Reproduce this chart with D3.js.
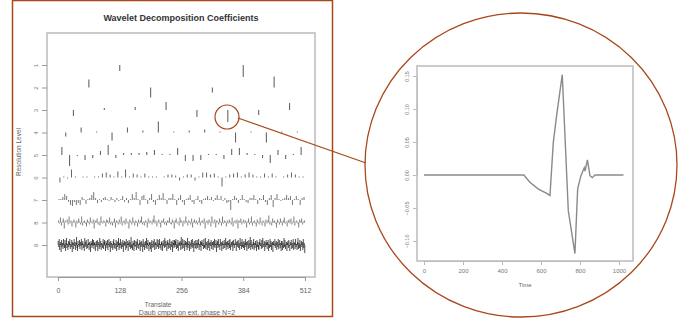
<!DOCTYPE html>
<html>
<head>
<meta charset="utf-8">
<script src="https://cdn.jsdelivr.net/npm/d3@7"></script>
<style>
  body { margin: 0; background: #fff; }
  svg { display: block; font-family: "Liberation Sans", Arial, sans-serif; }
</style>
</head>
<body>
<div id="chart"></div>
<script>
// wavelet coefficients per resolution level (px-ish units, + is up)
const level1 = [-6, -12];
const level2 = [8, -10, -5, 11];
const level3 = [-6, 2, 3, 8, -7, -12, -5, 7];
const level4 = [-4, 5, 1, -8, 5, 2, 11, 1, 2, 3, 1, -10, 1, -10, 1, 1];
const level5 = [8, -11, -1, -5, -3, 4, 10, -3, 2, 2, 2, 3, 5, 1, 1, 7,
  -6, -6, -5, 1, 1, -4, 6, 7, 2, 1, -3, -8, 5, -4, 1, 8];
const level6 = [-5, 1, -1, 8, 1, 0, 1, 1, 0, 1, 1, 4, 5, 3, 1, 6,
  1, 8, 1, 4, 3, 1, 4, 1, 1, 1, 0, 1, 3, 3, 2, -3,
  1, 3, 3, -3, 1, 5, 5, 3, 4, 1, -9, 1, 3, 4, 5, 1,
  3, 5, 3, 1, 1, 4, 1, 4, 1, 0, 1, 3, 5, 3, 1, 1];
const level7 = [1, 1, 3, 6, 4, -2, -5, -6, -2, -5, -3, -5, 3, 1, -4, 1,
  2, 5, 8, 2, -3, 1, -2, 2, 3, 1, -1, 3, 1, -2, 2, -1,
  1, 4, -2, 2, -3, 1, 6, 2, 8, 1, -5, 4, 5, 1, -4, 2,
  6, -2, -5, 1, 5, 2, 7, 1, -4, 2, 2, 6, 1, -5, 2, 5,
  -2, -5, 1, 2, 5, -2, -4, 1, 4, -2, -4, 1, 2, 4, 1, 3,
  -1, 2, 5, 1, 4, -1, 2, -3, -2, -10, 1, 4, 2, -3, 1, 5,
  1, -2, -3, 2, 2, 5, 1, -4, 2, 1, 5, -2, -5, 2, 5, -7,
  2, 6, 1, -1, 1, 2, 5, 2, 4, -5, 1, 4, 1, -5, 2, 3];
const level8 = [2, -1, 5, -3, 1, 4, -6, 2, 0, 3, -2, 6, -1, 2, -4, 1,
  3, 1, -5, 2, -1, 4, 1, -2, 6, -3, 1, 2, -1, -4, 3, 1,
  -2, 5, 1, -1, 3, -6, 2, 1, 4, -2, 1, -3, 6, 1, -1, 2,
  1, -4, 3, 2, -1, 5, -2, 1, -3, 1, 4, -5, 2, 1, -2, 3,
  -1, 6, -3, 1, 2, -2, 4, -1, 1, -6, 3, 1, -2, 5, 1, -3,
  2, 1, -4, 3, -1, 2, 6, -2, 1, -3, 2, 1, -5, 4, -1, 2,
  1, -2, 3, 7, -1, 2, -4, 1, 3, -1, -5, 2, 1, 4, -2, 1,
  -3, 2, 1, 5, -1, -2, 3, 1, -6, 2, 4, -1, 1, -3, 5, 2,
  1, -4, 2, -1, 6, 1, -3, 2, 1, -2, 4, -5, 1, 3, -1, 2,
  -2, 1, 5, -3, 1, 2, -1, 4, -6, 1, 2, -2, 3, 1, -4, 6,
  1, -1, 3, -5, 2, 1, -2, 4, 1, -3, 6, -1, 2, 1, -4, 2,
  -1, 3, 1, -2, 5, -4, 1, 2, -1, 3, -6, 2, 1, 4, -2, 1,
  3, -1, 2, -5, 1, 4, -2, 1, 6, -3, 1, 2, -1, -4, 3, 1,
  -2, 5, 1, -3, 2, 1, -4, 3, -1, 2, 7, -2, 1, -3, 4, 1,
  2, -1, -5, 3, 1, -2, 4, 1, -3, 2, 5, -1, 1, -4, 2, 3,
  -1, 4, -2, 1, 6, -3, 1, 2, -1, -5, 3, 1, 4, -2, 1, 2];
const level9 = [4, -2, 6, -5, 1, 3, -7, 5, -2, 2, -4, 6, 1, -3, 5, -6,
  2, 7, -3, 1, -5, 4, -2, 3, 6, -4, 1, -2, 5, -7, 3, 2,
  -4, 6, -1, 3, -5, 2, 8, -3, -6, 4, 1, -2, 5, -4, 3, -1,
  6, -5, 2, 4, -3, 1, -6, 7, -2, 3, 5, -4, 1, -3, 6, 2,
  -5, 3, 1, -7, 4, 2, -3, 6, -1, 5, -4, 2, 3, -6, 1, 4,
  -2, 5, -6, 3, 1, -4, 7, -2, 4, -5, 2, 1, -3, 6, -4, 3,
  5, -1, -6, 4, 2, -3, 5, -5, 1, 6, -2, 3, -7, 4, 2, -3,
  1, -5, 4, 6, -3, 2, -4, 1, 5, -6, 3, -2, 4, 7, -5, 2,
  -3, 6, 1, -4, 3, -2, 5, -7, 2, 4, -1, 3, -5, 6, -3, 1,
  4, -6, 2, 5, -2, 3, -4, 8, -3, 1, -5, 4, 2, -6, 5, -2,
  -1, 4, -5, 3, 6, -3, 1, -4, 2, 5, -6, 3, -2, 4, 1, -7,
  6, -2, 3, -5, 1, 4, -3, 7, -4, 2, 5, -1, -6, 3, 2, -4,
  3, -7, 5, 1, -3, 4, -2, 6, -5, 2, 3, -4, 1, 6, -2, 5,
  -4, 2, 6, -3, 1, -5, 3, 4, -6, 2, -1, 5, -3, 7, -2, 4,
  1, -6, 3, 5, -4, 2, -3, 6, 1, -5, 4, -2, 3, -7, 5, 2,
  -3, 5, -2, 4, 6, -4, 1, -3, 5, -6, 2, 3, -1, 4, -5, 8,
  2, -4, 6, -3, 1, 5, -6, 2, 4, -2, 3, -5, 7, -3, 1, 4,
  -6, 3, 1, -4, 5, -2, 6, -3, 2, -7, 4, 1, -3, 5, -4, 2,
  5, -3, 2, 6, -5, 1, -2, 4, -6, 3, 5, -1, 2, -4, 6, -3,
  -2, 7, -4, 3, 1, -5, 4, -3, 6, 2, -6, 3, -1, 5, -4, 2,
  3, -5, 4, -2, 6, -3, 1, 5, -7, 2, 4, -3, 6, -2, 1, -5,
  6, -1, 3, -6, 2, 4, -4, 1, 5, -3, 2, 7, -5, 3, -2, 4,
  -4, 2, 5, -3, 6, -5, 1, 3, -2, 4, -6, 5, 2, -3, 1, 6,
  1, -6, 3, 4, -2, 5, -3, 2, -5, 7, -1, 3, -4, 6, -2, 3,
  -3, 4, -5, 2, 6, -2, 3, -6, 4, 1, -4, 5, -3, 2, 8, -5,
  5, -2, 1, -4, 3, 6, -5, 2, -3, 4, 1, -6, 5, -2, 3, -4,
  -5, 3, 6, -1, 2, -4, 5, -3, 7, -2, 1, 4, -6, 3, -2, 5,
  2, -4, 3, 5, -6, 1, -3, 6, -2, 4, -5, 2, 3, -7, 4, 1,
  -1, 6, -3, 2, 4, -5, 3, -2, 6, -4, 1, 5, -3, 2, -6, 4,
  4, -5, 2, -3, 7, -2, 5, -4, 1, 3, -6, 2, 4, -3, 5, -1,
  -6, 3, 1, 5, -4, 2, -3, 6, -5, 3, 2, -4, 6, -2, 1, -5,
  3, 7, -4, 2, -3, 5, -6, 1, 4, -2, 3, -5, 6, -3, 2, -8];
const levels = [level1, level2, level3, level4, level5, level6, level7, level8, level9];
const levelTicks = [1, 2, 3, 4, 5, 6, 7, 8, 9];
const translateTicks = [0, 128, 256, 384, 512];

// the zoomed-in wavelet (time, value)
const waveTime = [0, 512, 543, 585, 629, 646, 663, 680, 709, 740, 774, 788, 805, 822, 826, 838, 851, 863, 877, 1023];
const waveValue = [0, 0, -0.011, -0.021, -0.028, -0.031, 0.049, 0.09, 0.152, -0.054, -0.119, -0.021, -0.001, 0.011, 0.006, 0.023, -0.001, -0.004, 0, 0];
const timeTicks = [0, 200, 400, 600, 800, 1000];
const waveTicks = [-0.10, -0.05, 0.00, 0.05, 0.10, 0.15];

const W = 682, H = 321;
const brown = "#a8481a";
const svg = d3.select("#chart").append("svg").attr("width", W).attr("height", H);

// ---------- left panel ----------
svg.append("rect").attr("x", 12.5).attr("y", 0.5).attr("width", 320).attr("height", 316)
  .attr("fill", "none").attr("stroke", brown).attr("stroke-width", 1.5);

const box = {left: 47, top: 33, right: 315, bottom: 277};
const x = d3.scaleLinear().domain([0, 512]).range([58, 305]);
const y = d3.scaleLinear().domain([1, 9]).range([65, 245]);
const coef = d3.scaleLinear().domain([0, 10]).range([0, 10]);

svg.append("rect").attr("x", box.left).attr("y", box.top)
  .attr("width", box.right - box.left).attr("height", box.bottom - box.top)
  .attr("fill", "none").attr("stroke", "#bbb").attr("stroke-width", 1.5);

// stroke per level: sparse top levels look grey, finest level is a dark band
const levelColor = ["#666", "#666", "#666", "#666", "#666", "#666", "#555", "#444", "#111"];
const levelWidth = [1.1, 1.1, 1.1, 1.1, 1.1, 1.0, 0.8, 0.7, 0.75];

levels.forEach((vals, i) => {
  const lev = i + 1, n = vals.length;
  svg.append("g").selectAll("line").data(vals).enter().append("line")
    .attr("x1", (d, k) => x((k + 0.5) * 512 / n))
    .attr("x2", (d, k) => x((k + 0.5) * 512 / n))
    .attr("y1", y(lev))
    .attr("y2", d => y(lev) - coef(d))
    .attr("stroke", levelColor[i])
    .attr("stroke-width", levelWidth[i]);
});

const xAxis = svg.append("g").attr("transform", "translate(0," + box.bottom + ")")
  .call(d3.axisBottom(x).tickValues(translateTicks).tickSize(4).tickSizeOuter(0));
xAxis.select(".domain").attr("stroke", "#999");
xAxis.selectAll(".tick line").attr("stroke", "#999");
xAxis.selectAll("text").attr("fill", "#666").style("font-size", "7px").attr("y", 11);

const yAxis = svg.append("g").attr("transform", "translate(" + box.left + ",0)")
  .call(d3.axisLeft(y).tickValues(levelTicks).tickSize(5).tickSizeOuter(0));
yAxis.select(".domain").attr("stroke", "none");
yAxis.selectAll(".tick line").attr("stroke", "#999");
yAxis.selectAll("text").attr("fill", "#777").style("font-size", "6px")
  .attr("transform", "rotate(-90)").attr("x", 0).attr("y", -9).attr("dy", 0)
  .attr("text-anchor", "middle");

svg.append("text").attr("x", 181).attr("y", 21).attr("text-anchor", "middle")
  .style("font-size", "9px").style("font-weight", "bold").attr("fill", "#333")
  .text("Wavelet Decomposition Coefficients");
svg.append("text").attr("transform", "translate(21,152)rotate(-90)").attr("text-anchor", "middle")
  .style("font-size", "6.5px").attr("fill", "#666").text("Resolution Level");
svg.append("text").attr("x", 158).attr("y", 307).attr("text-anchor", "middle")
  .style("font-size", "6.5px").attr("fill", "#666").text("Translate");
svg.append("text").attr("x", 187).attr("y", 315).attr("text-anchor", "middle")
  .style("font-size", "7px").attr("fill", "#666").text("Daub cmpct on ext. phase N=2");

// ---------- callout ----------
svg.append("circle").attr("cx", 227).attr("cy", 117).attr("r", 12)
  .attr("fill", "none").attr("stroke", brown).attr("stroke-width", 1.2);
svg.append("line").attr("x1", 238).attr("y1", 118).attr("x2", 366).attr("y2", 163)
  .attr("stroke", brown).attr("stroke-width", 1.2);
svg.append("ellipse").attr("cx", 521).attr("cy", 165).attr("rx", 156).attr("ry", 152)
  .attr("fill", "none").attr("stroke", brown).attr("stroke-width", 1.3);

// ---------- right panel ----------
const rbox = {left: 417, top: 66, right: 633, bottom: 261};
const tx = d3.scaleLinear().domain([0, 1000]).range([424, 619]);
const ty = d3.scaleLinear().domain([0, 0.15]).range([175, 76]);

svg.append("rect").attr("x", rbox.left).attr("y", rbox.top)
  .attr("width", rbox.right - rbox.left).attr("height", rbox.bottom - rbox.top)
  .attr("fill", "none").attr("stroke", "#bbb").attr("stroke-width", 1.5);

svg.append("path").datum(d3.zip(waveTime, waveValue))
  .attr("d", d3.line().x(d => tx(d[0])).y(d => ty(d[1])))
  .attr("fill", "none").attr("stroke", "#8a8a8a").attr("stroke-width", 1.4);

const txAxis = svg.append("g").attr("transform", "translate(0," + rbox.bottom + ")")
  .call(d3.axisBottom(tx).tickValues(timeTicks).tickFormat(d3.format("d")).tickSize(4).tickSizeOuter(0));
txAxis.select(".domain").attr("stroke", "#bbb");
txAxis.selectAll(".tick line").attr("stroke", "#bbb");
txAxis.selectAll("text").attr("fill", "#777").style("font-size", "6px").attr("y", 8);

const tyAxis = svg.append("g").attr("transform", "translate(" + rbox.left + ",0)")
  .call(d3.axisLeft(ty).tickValues(waveTicks).tickFormat(d3.format(".2f")).tickSize(4).tickSizeOuter(0));
tyAxis.select(".domain").attr("stroke", "#bbb");
tyAxis.selectAll(".tick line").attr("stroke", "#bbb");
tyAxis.selectAll("text").attr("fill", "#777").style("font-size", "5.5px")
  .attr("transform", "rotate(-90)").attr("x", 0).attr("y", -8).attr("dy", 0)
  .attr("text-anchor", "middle");

svg.append("text").attr("x", 525).attr("y", 287).attr("text-anchor", "middle")
  .style("font-size", "6px").attr("fill", "#666").text("Time");
</script>
</body>
</html>
